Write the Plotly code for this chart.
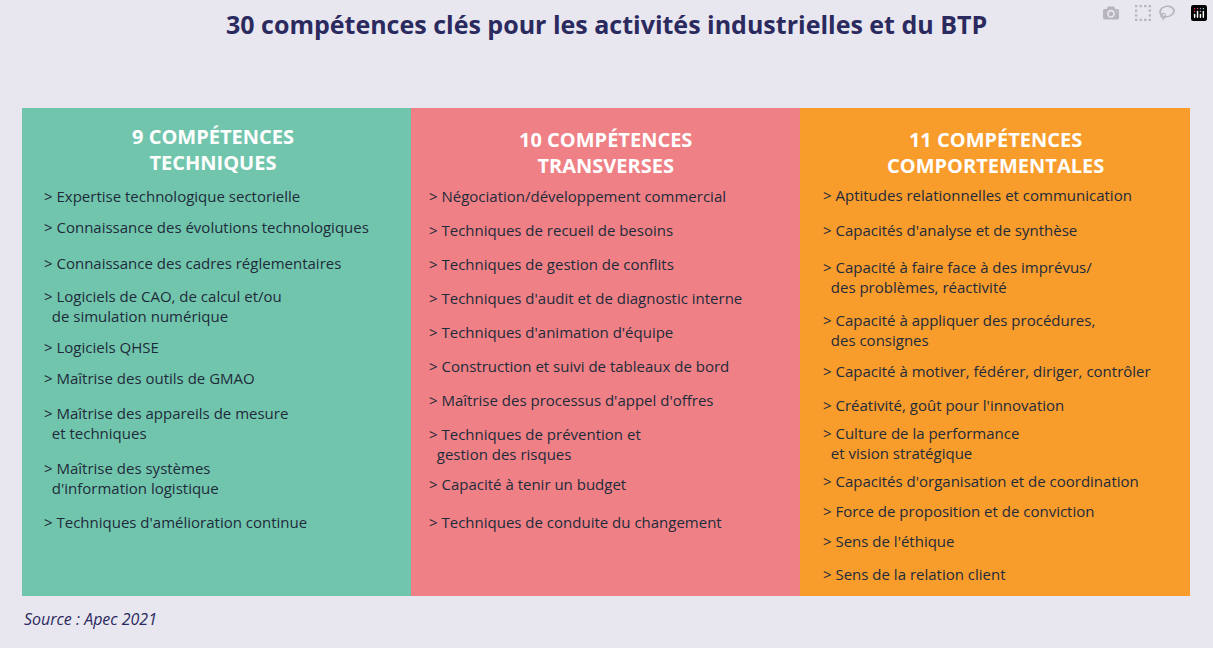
import plotly.graph_objects as go

title = "30 compétences clés pour les activités industrielles et du BTP"
headers = ["9 COMPÉTENCES<br>TECHNIQUES", "10 COMPÉTENCES<br>TRANSVERSES", "11 COMPÉTENCES<br>COMPORTEMENTALES"]
tech = ["Expertise technologique sectorielle",
        "Connaissance des évolutions technologiques",
        "Connaissance des cadres réglementaires",
        "Logiciels de CAO, de calcul et/ou<br>  de simulation numérique",
        "Logiciels QHSE",
        "Maîtrise des outils de GMAO",
        "Maîtrise des appareils de mesure<br>  et techniques",
        "Maîtrise des systèmes<br>  d'information logistique",
        "Techniques d'amélioration continue"]
trans = ["Négociation/développement commercial",
         "Techniques de recueil de besoins",
         "Techniques de gestion de conflits",
         "Techniques d'audit et de diagnostic interne",
         "Techniques d'animation d'équipe",
         "Construction et suivi de tableaux de bord",
         "Maîtrise des processus d'appel d'offres",
         "Techniques de prévention et<br>  gestion des risques",
         "Capacité à tenir un budget",
         "Techniques de conduite du changement"]
comp = ["Aptitudes relationnelles et communication",
        "Capacités d'analyse et de synthèse",
        "Capacité à faire face à des imprévus/<br>  des problèmes, réactivité",
        "Capacité à appliquer des procédures,<br>  des consignes",
        "Capacité à motiver, fédérer, diriger, contrôler",
        "Créativité, goût pour l'innovation",
        "Culture de la performance<br>  et vision stratégique",
        "Capacités d'organisation et de coordination",
        "Force de proposition et de conviction",
        "Sens de l'éthique",
        "Sens de la relation client"]
source = "Source : Apec 2021"

# layout (positions / styles)
cols_x = [(22, 411), (411, 800), (800, 1190)]
colors = ["#72C5AD", "#EE8086", "#F89C2C"]
header_y = [149, 152, 152]
text_x = [42, 427, 821]
ys = [[196, 227, 263, 306, 347, 378, 423, 478, 522],
      [196, 230, 264, 298, 332, 366, 400, 444, 484, 522],
      [195, 230, 277, 330, 371, 405, 443, 481, 511, 541, 574]]
top, bottom = 108, 596

fig = go.Figure()
fig.add_trace(go.Scatter(x=[0, 1213], y=[0, 648], mode="markers", marker=dict(opacity=0), hoverinfo="skip"))
for (x0, x1), c in zip(cols_x, colors):
    fig.add_shape(type="rect", x0=x0, x1=x1, y0=top, y1=bottom, fillcolor=c, line=dict(width=0), layer="below")
for i, (items, yy) in enumerate(zip([tech, trans, comp], ys)):
    x0, x1 = cols_x[i]
    fig.add_annotation(x=(x0 + x1) / 2 - (4 if i == 0 else 0), y=header_y[i], text="<b>" + headers[i] + "</b>",
                       showarrow=False, font=dict(family="Open Sans", size=20, color="white"), align="center")
    for t, y in zip(items, yy):
        fig.add_annotation(x=text_x[i], y=y, text="> " + t, showarrow=False, xanchor="left", yanchor="middle",
                           align="left", font=dict(family="Open Sans", size=15, color="#1E2B3A"))
fig.add_annotation(x=606, y=24, text="<b>" + title + "</b>", showarrow=False,
                   font=dict(family="Open Sans", size=25, color="#2B2A5E"))
fig.add_annotation(x=22, y=619, text="<i>" + source + "</i>", showarrow=False, xanchor="left",
                   font=dict(family="Open Sans", size=16, color="#2B2A5E"))
fig.update_xaxes(range=[0, 1213], visible=False, fixedrange=True)
fig.update_yaxes(range=[648, 0], visible=False, fixedrange=True)
fig.update_layout(width=1213, height=648, margin=dict(l=0, r=0, t=0, b=0),
                  paper_bgcolor="#E8E6EE", plot_bgcolor="#E8E6EE", showlegend=False)
fig.write_html("out.html")
with open("out.html", encoding="utf-8") as f:
    html = f.read()
html = html.replace("<body>", '<body style="margin:0;background:#E8E6EE">', 1)
with open("out.html", "w", encoding="utf-8") as f:
    f.write(html)
